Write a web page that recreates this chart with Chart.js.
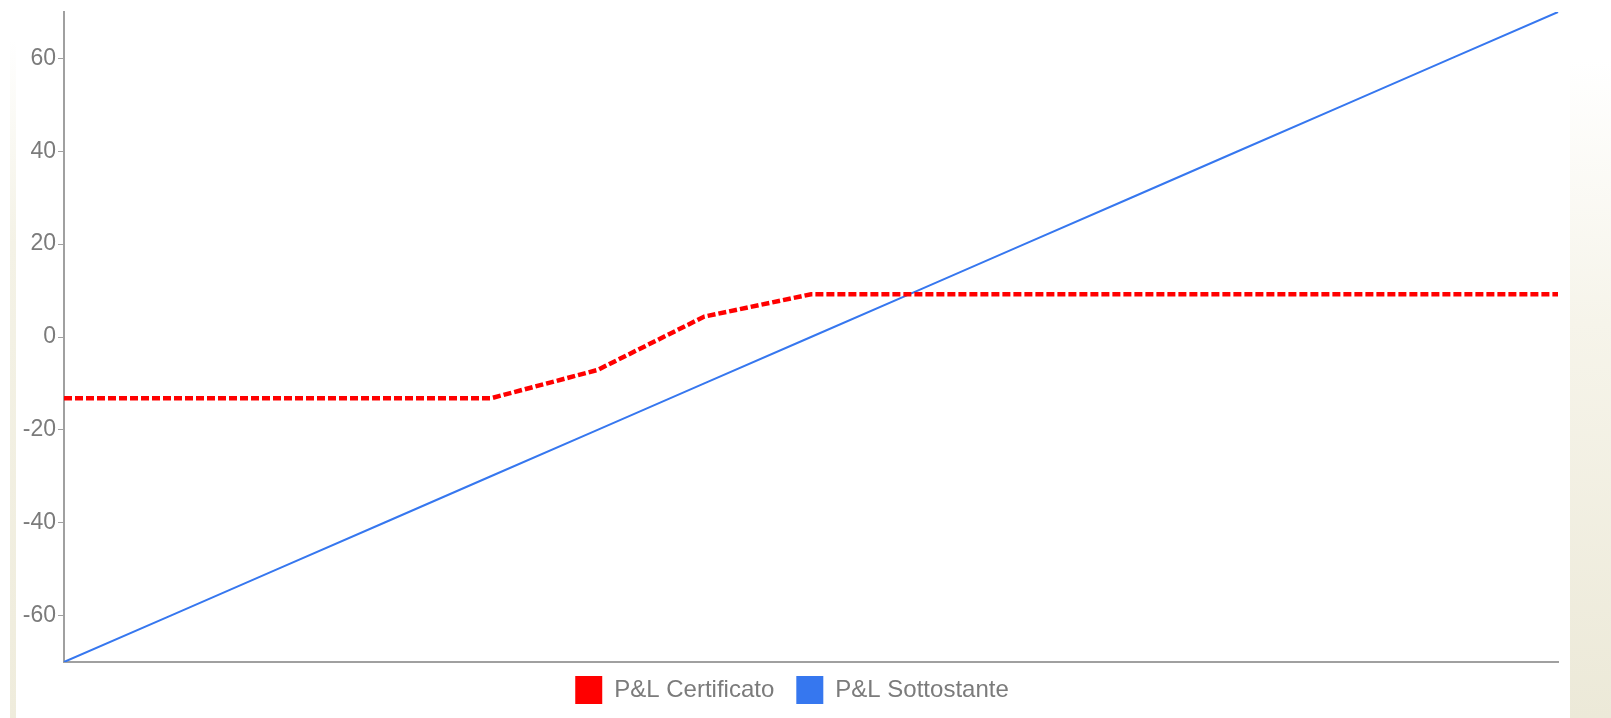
<!DOCTYPE html>
<html>
<head>
<meta charset="utf-8">
<title>P&amp;L</title>
<script src="https://cdn.jsdelivr.net/npm/chart.js@4.4.1/dist/chart.umd.min.js"></script>
<style>
  html, body { margin: 0; padding: 0; background: #fff; }
  .wrap { position: relative; width: 1611px; height: 718px; overflow: hidden; }
  .strip-left { position: absolute; left: 10px; top: 40px; width: 6px; height: 678px;
    background: linear-gradient(to bottom, #ffffff 0%, #f4f2e6 30%, #efecdc 100%); }
  .strip-right { position: absolute; left: 1570px; top: 60px; width: 41px; height: 658px;
    background: linear-gradient(to bottom, #ffffff 0%, #f6f4ea 40%, #ece9d8 100%); }
  canvas { position: absolute; left: 0; top: 0; }
</style>
</head>
<body>
<div class="wrap">
  <div class="strip-left"></div>
  <div class="strip-right"></div>
  <canvas id="myChart" width="1611" height="718"></canvas>
</div>
<script>
// scenario steps on the x axis (labels are not shown)
var steps = ['0','1','2','3','4','5','6','7','8','9','10','11','12','13','14'];
var certificato = [-13.2, -13.2, -13.2, -13.2, -13.2, -7.1, 4.4, 9.2, 9.2, 9.2, 9.2, 9.2, 9.2, 9.2, 9.2];
var sottostante = [-70, -60, -50, -40, -30, -20, -10, 0, 10, 20, 30, 40, 50, 60, 70];
var yTicks = [-60, -40, -20, 0, 20, 40, 60];

var red = '#ff0000';
var blue = '#3677ef';
var grey = '#7b7b7b';
var legendShrink = 16;
var legendShift = 13;

// legend takes less room, chart area goes further down
var legendSqueeze = {
    id: 'legendSqueeze',
    beforeInit: function (chart) {
        var fit = chart.legend.fit;
        chart.legend.fit = function () {
            fit.call(this);
            this.height -= legendShrink;
        };
    },
    afterLayout: function (chart) {
        chart.legend.top -= legendShrink;
        chart.legend.left += legendShift;
        chart.legend.right += legendShift;
    }
};

var ctx = document.getElementById('myChart').getContext('2d');
var myChart = new Chart(ctx, {
    type: 'line',
    data: {
        labels: steps,
        datasets: [{
            label: 'P&L Certificato',
            data: certificato,
            borderColor: red,
            backgroundColor: red,
            borderWidth: 4.5,
            borderDash: [8, 3],
            pointRadius: 0,
            tension: 0,
            fill: false
        }, {
            label: 'P&L Sottostante',
            data: sottostante,
            borderColor: blue,
            backgroundColor: blue,
            borderWidth: 2,
            pointRadius: 0,
            tension: 0,
            fill: false
        }]
    },
    options: {
        responsive: false,
        animation: false,
        layout: {
            padding: { left: 0, right: 53, top: 12, bottom: 4 }
        },
        plugins: {
            tooltip: { enabled: false },
            legend: {
                position: 'bottom',
                labels: {
                    color: grey,
                    boxWidth: 27,
                    boxHeight: 28,
                    padding: 22,
                    font: { family: '"Liberation Sans", Arial, sans-serif', size: 24 },
                    generateLabels: function (chart) {
                        return chart.data.datasets.map(function (ds, i) {
                            return {
                                text: ds.label,
                                fillStyle: ds.borderColor,
                                strokeStyle: ds.borderColor,
                                lineWidth: 0,
                                lineDash: [],
                                fontColor: grey,
                                datasetIndex: i
                            };
                        });
                    }
                }
            }
        },
        scales: {
            x: {
                ticks: { display: false },
                grid: { display: false },
                border: { display: true, color: '#a0a0a0', width: 2 }
            },
            y: {
                min: -70,
                max: 70,
                afterBuildTicks: function (axis) {
                    axis.ticks = yTicks.map(function (v) { return { value: v }; });
                },
                afterFit: function (axis) {
                    axis.width = 64;
                    axis.paddingTop = 0;
                    axis.paddingBottom = 0;
                },
                ticks: {
                    color: grey,
                    padding: 2,
                    font: { family: '"Liberation Sans", Arial, sans-serif', size: 23 }
                },
                grid: {
                    drawOnChartArea: false,
                    drawTicks: true,
                    tickLength: 6,
                    color: '#a0a0a0'
                },
                border: { display: true, color: '#a0a0a0', width: 2 }
            }
        }
    },
    plugins: [legendSqueeze]
});
</script>
</body>
</html>
